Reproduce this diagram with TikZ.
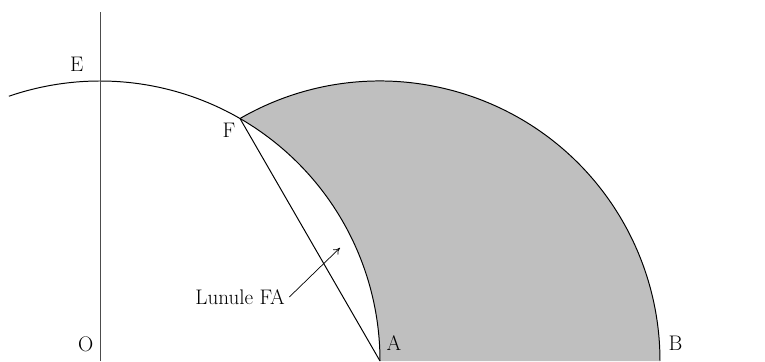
\documentclass[tikz,border=0pt]{standalone}
\usepackage{tikz}
\usetikzlibrary{arrows.meta,positioning}
\definecolor{lunegray}{gray}{0.75}

\begin{document}
\begin{tikzpicture}[>={To[length=1.6mm,width=1.8mm]}, line width=0.7pt,
    pt/.style={font=\fontsize{15}{18}\selectfont, inner sep=3pt}]
  \useasboundingbox (-2.5,0) rectangle (16.625,9.025);
  \coordinate (O) at (0,0);
  \coordinate (A) at (0:7);
  \coordinate (B) at (14,0);
  \coordinate (E) at (90:7);
  \coordinate (F) at (60:7);
  \coordinate (tip) at (6.0,2.83);
  % lunule between the two arcs
  \fill[lunegray] (F) arc[start angle=120, end angle=0, radius=7] -- (A)
    arc[start angle=0, end angle=60, radius=7] -- cycle;
  \draw (F) arc[start angle=120, end angle=0, radius=7];
  \draw (109:7) arc[start angle=109, end angle=0, radius=7];
  \draw[black!70] (O) -- (0,8.725);
  \draw (F) -- (A);
  \node[pt, above left=0.12 and 0.3] (lE) at (E) {E};
  \node[pt, below left] (lF) at (F) {F};
  \node[pt, above left=0.1 and 0.05] (lO) at (O) {O};
  \node[pt, above right=0.15 and 0.05] (lA) at (A) {A};
  \node[pt, above right=0.15 and 0.1] (lB) at (B) {B};
  \node[pt] (lunlabel) at (3.5,1.6) {Lunule FA};
  \draw[->, line width=0.5pt] (lunlabel.east) -- (tip);
\end{tikzpicture}
\end{document}
